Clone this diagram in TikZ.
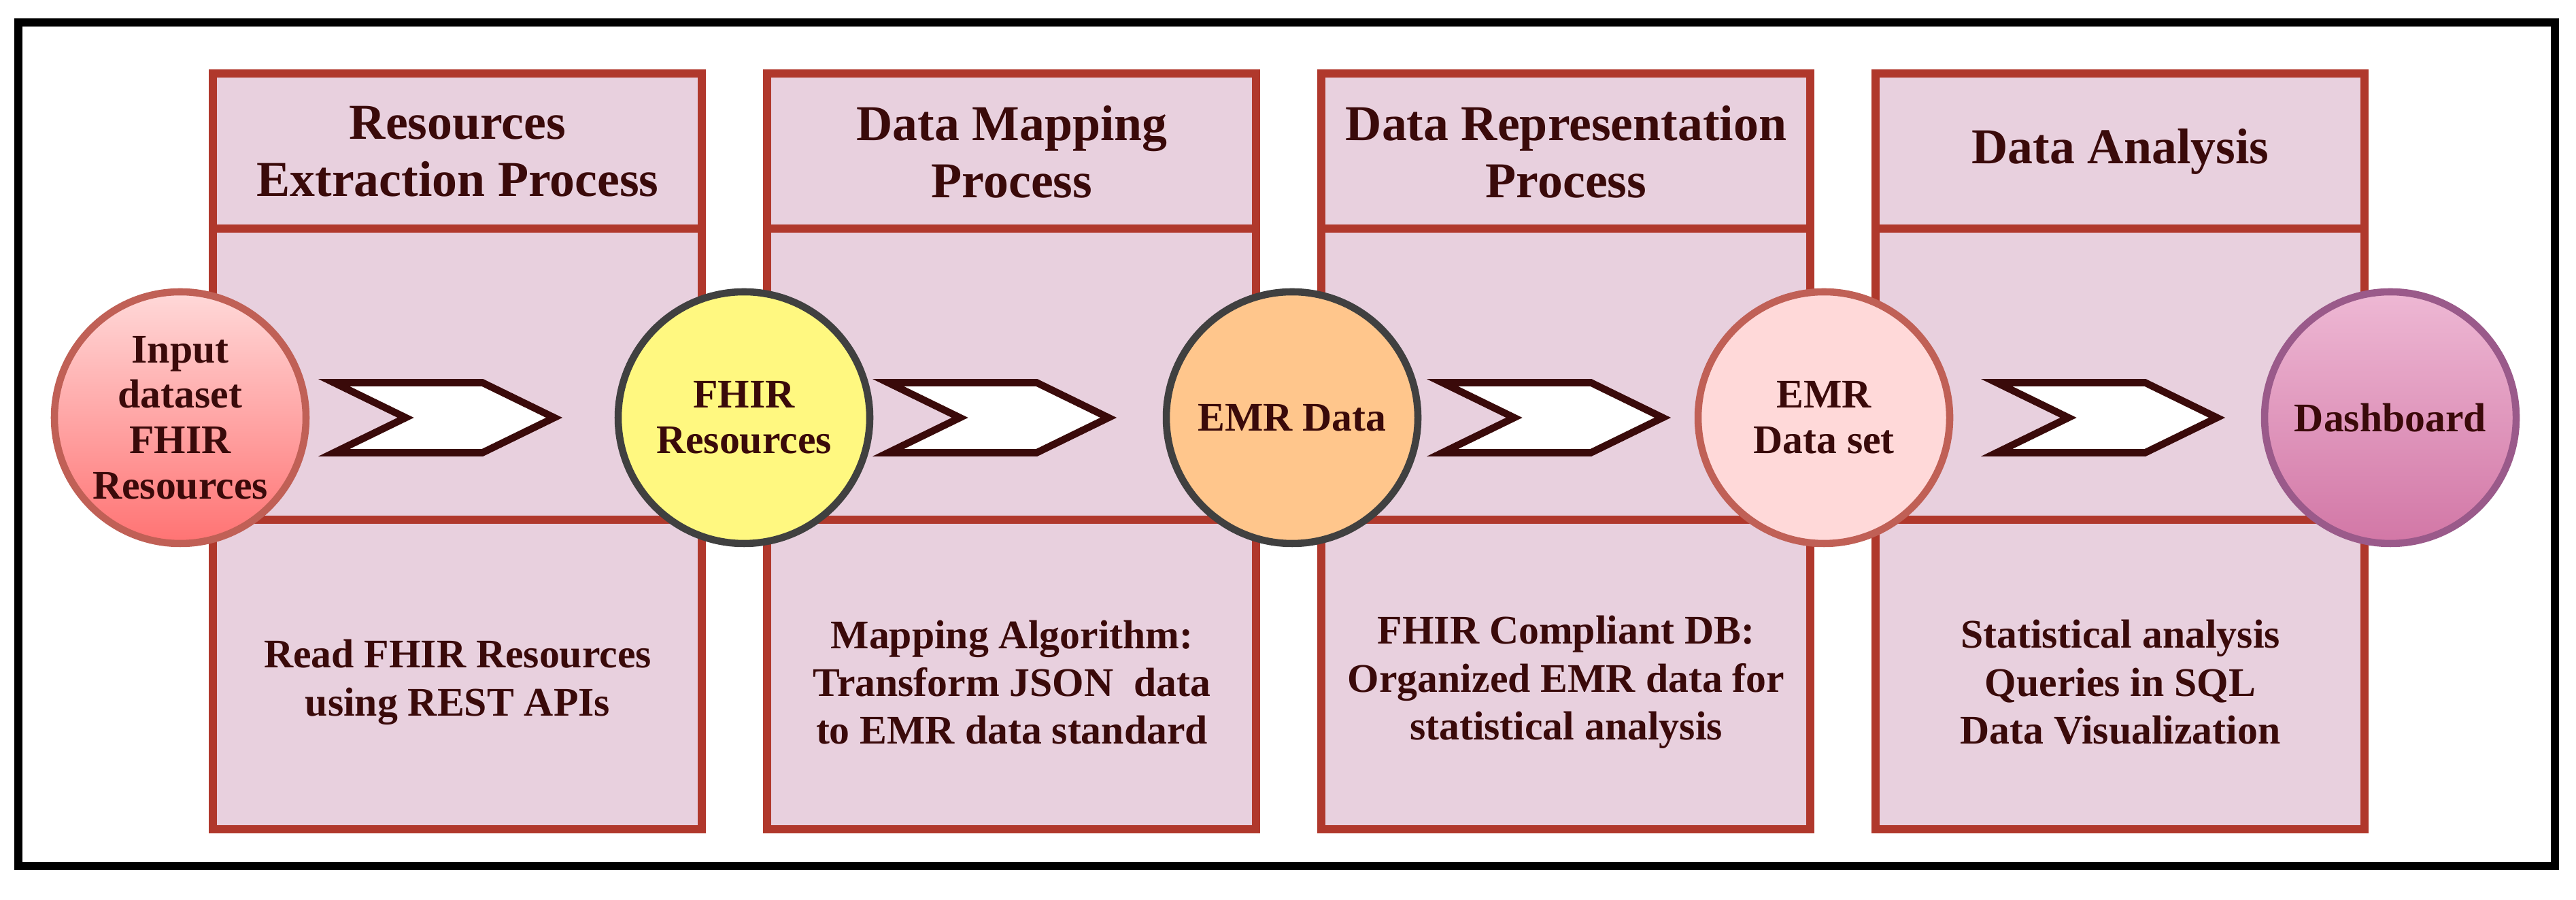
\documentclass[tikz,border=0pt]{standalone}
\usepackage{fontspec}
\setmainfont{Liberation Serif}
\usetikzlibrary{shapes.symbols}
\definecolor{boxfill}{HTML}{E8D0DE}
\definecolor{boxline}{HTML}{B0382C}
\definecolor{txt}{HTML}{3A0A0A}
\definecolor{dashtop}{HTML}{EEB8D4}
\definecolor{dashbot}{HTML}{D277A6}
\definecolor{dashline}{HTML}{9A5A8A}
\tikzset{
  stage/.style={draw=boxline, line width=3.5pt, fill=boxfill},
  blob/.style={circle, line width=3pt, minimum size=3.7cm, inner sep=0pt, align=center,
    font=\fontsize{17}{19}\selectfont\bfseries, text=txt},
  head/.style={align=center, font=\fontsize{21}{24}\selectfont\bfseries, text=txt},
  body/.style={align=center, font=\fontsize{17}{20}\selectfont\bfseries, text=txt},
  chev/.style={signal, signal from=west, signal to=east, signal pointer angle=52,
    draw=txt, line width=3pt, fill=white, minimum width=3.24cm, minimum height=1.03cm, inner sep=0pt}
}
\begin{document}
\begin{tikzpicture}
\fill[white] (0,0) rectangle (37.88,13.23);
\useasboundingbox (0,0) rectangle (37.88,13.23);
\draw[line width=3.5pt] (0.27,0.50) rectangle (37.57,12.90);

% stage boxes
\foreach \i/\h/\b in {0/{Resources\\Extraction Process}/{Read FHIR Resources\\using REST APIs},
    1/{Data Mapping\\Process}/{Mapping Algorithm:\\Transform JSON\ \ data\\to EMR data standard},
    2/{Data Representation\\Process}/{FHIR Compliant DB:\\Organized EMR data for\\statistical analysis},
    3/{Data Analysis}/{Statistical analysis\\Queries in SQL\\Data Visualization}} {
  \pgfmathsetmacro{\x}{3.13+8.15*\i}
  \draw[stage] (\x,1.04) rectangle ++(7.19,4.55);
  \draw[stage] (\x,5.59) rectangle ++(7.19,4.28);
  \draw[stage] (\x,9.87) rectangle ++(7.19,2.28);
  \node[head] (h\i) at (\x+3.6,11.0) {\h};
  \node[body] (b\i) at (\x+3.6,3.2) {\b};
  \node[chev] (g\i) at (\x+3.4,7.09) {};
}

% circles
\node[blob, draw=boxline!80, top color=red!15!white, bottom color=red!55!white] (c0) at (2.65,7.09) {Input\\dataset\\FHIR\\Resources};
\node[blob, draw=black!75, fill=yellow!50] (c1) at (10.94,7.09) {FHIR\\Resources};
\node[blob, draw=black!75, fill=orange!45] (c2) at (19.0,7.09) {EMR Data};
\node[blob, draw=boxline!80, fill=red!15!white] (c3) at (26.82,7.09) {EMR\\Data set};
\node[blob, draw=dashline, top color=dashtop, bottom color=dashbot] (c4) at (35.15,7.09) {Dashboard};
\end{tikzpicture}
\end{document}
